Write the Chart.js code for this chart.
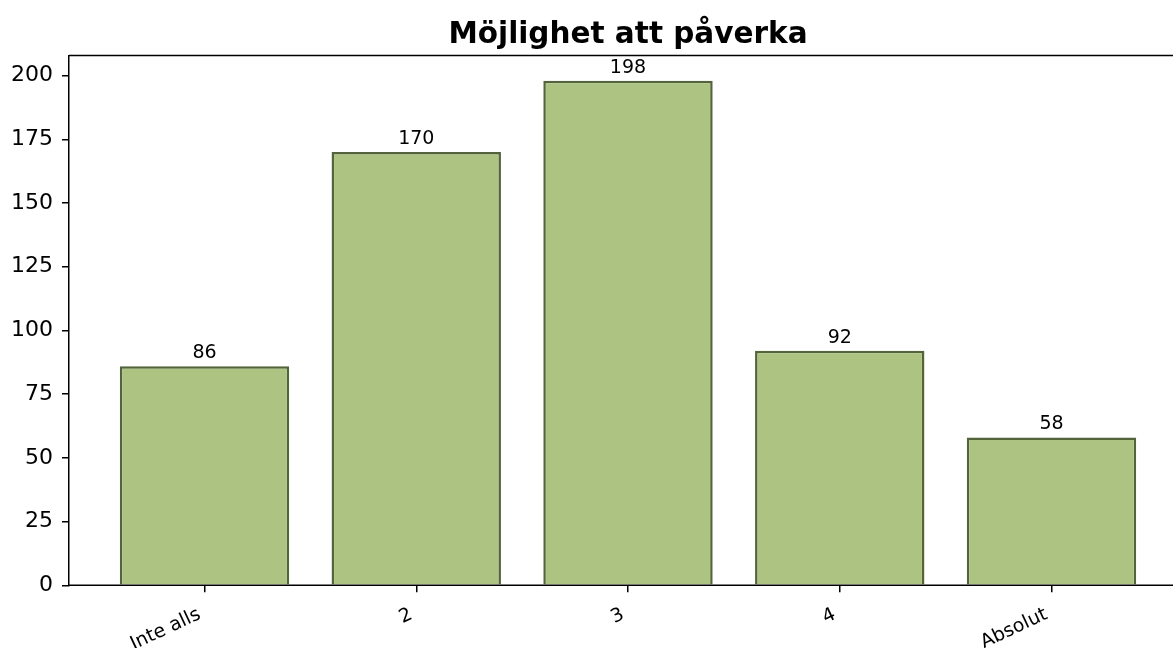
<!DOCTYPE html>
<html lang="sv">
<head>
  <meta charset="utf-8">
  <title>Möjlighet att påverka</title>
  <script src="https://cdn.jsdelivr.net/npm/chart.js@4.4.1/dist/chart.umd.min.js"></script>
  <style>
    html, body { margin: 0; padding: 0; overflow: hidden; background: #fff; }
  </style>
</head>
<body>
  <canvas id="myChart" width="1187" height="648"></canvas>

  <script>
    // data
    const categories = ['Inte alls', '2', '3', '4', 'Absolut'];
    const counts = [86, 170, 198, 92, 58];
    const yTicks = [0, 25, 50, 75, 100, 125, 150, 175, 200];
    const titleText = 'Möjlighet att påverka';

    const font = "'DejaVu Sans', sans-serif";

    // title over the axes, value above each bar, top and bottom spines
    const extras = {
      id: 'extras',
      afterDatasetsDraw(chart) {
        const ctx = chart.ctx;
        const a = chart.chartArea;
        const meta = chart.getDatasetMeta(0);
        const y0 = chart.scales.y.getPixelForValue(0);
        ctx.save();
        ctx.fillStyle = '#000';
        ctx.textAlign = 'center';
        ctx.textBaseline = 'alphabetic';

        ctx.font = 'bold 29.5px ' + font;
        ctx.fillText(titleText, (a.left + a.right) / 2, 43);

        ctx.font = '19px ' + font;
        meta.data.forEach((bar, i) => {
          ctx.fillText(String(counts[i]), bar.x, bar.y - 8);
        });

        ctx.strokeStyle = '#000';
        ctx.lineWidth = 1.5;
        ctx.beginPath();
        ctx.moveTo(a.left, a.top);
        ctx.lineTo(a.right, a.top);
        ctx.moveTo(a.left - 0.75, y0);
        ctx.lineTo(a.right, y0);
        ctx.stroke();
        ctx.restore();
      }
    };

    const data = {
      datasets: [
        {
          data: categories.map((c, i) => ({ x: i, y: counts[i] })),
          backgroundColor: '#adc381',
          borderColor: '#53633a',
          borderWidth: 2.5,
          borderSkipped: 'start',
          barPercentage: 0.8,
          categoryPercentage: 1.0
        }
      ]
    };

    const config = {
      type: 'bar',
      data: data,
      options: {
        responsive: false,
        animation: false,
        layout: { padding: { top: 55.5, left: 0, right: 0, bottom: 0 } },
        plugins: {
          legend: { display: false },
          tooltip: { enabled: false },
          title: { display: false }
        },
        scales: {
          x: {
            type: 'linear',
            min: -0.64,
            max: 4.64,
            offset: false,
            afterBuildTicks: (scale) => {
              scale.ticks = categories.map((c, i) => ({ value: i }));
            },
            afterFit: (scale) => { scale.height = 62.7; },
            grid: {
              display: true,
              offset: false,
              drawOnChartArea: false,
              drawTicks: true,
              tickLength: 7,
              tickColor: '#000',
              lineWidth: 1.5
            },
            border: { display: false },
            ticks: {
              autoSkip: false,
              minRotation: 25,
              maxRotation: 25,
              padding: 11,
              labelOffset: -5,
              color: '#000',
              font: { family: font, size: 19 },
              callback: (v) => categories[v]
            }
          },
          y: {
            min: 0,
            max: 207.9,
            afterBuildTicks: (scale) => {
              scale.ticks = yTicks.map(v => ({ value: v }));
            },
            afterFit: (scale) => { scale.width = 69; },
            grid: {
              display: true,
              drawOnChartArea: false,
              drawTicks: true,
              tickLength: 7,
              tickColor: '#000',
              lineWidth: 1.5
            },
            border: { display: true, color: '#000', width: 1.5 },
            ticks: {
              padding: 9,
              color: '#000',
              font: { family: font, size: 22 }
            }
          }
        }
      },
      plugins: [extras]
    };

    new Chart(document.getElementById('myChart'), config);
  </script>
</body>
</html>
